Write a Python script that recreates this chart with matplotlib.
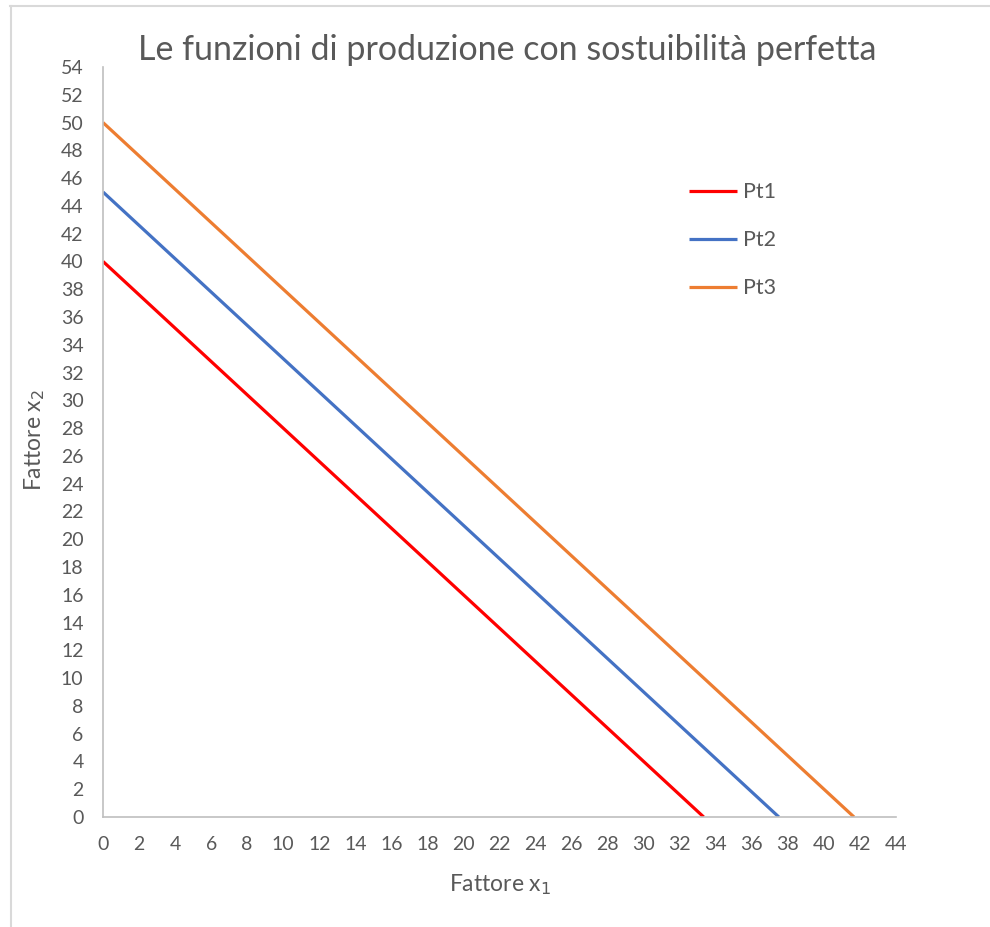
import matplotlib
matplotlib.use("Agg")
import matplotlib.pyplot as plt
from matplotlib.lines import Line2D

plt.rcParams['font.family'] = ['Lato', 'DejaVu Sans']

series_names = ["Pt1", "Pt2", "Pt3"]
x1_values = [[0, 33.33], [0, 37.5], [0, 41.67]]
x2_values = [[40, 0], [45, 0], [50, 0]]
colors = ["#FF0000", "#4472C4", "#ED7D31"]
x_ticks = list(range(0, 45, 2))
y_ticks = list(range(0, 55, 2))

txt = "#595959"
fig = plt.figure(figsize=(9.9, 9.27), dpi=100)
ax = fig.add_axes([103/990, 1-817/927, (896-103)/990, (817-67)/927])

for name, xs, ys, c in zip(series_names, x1_values, x2_values, colors):
    ax.plot(xs, ys, color=c, lw=2.3, label=name, solid_capstyle='butt')

ax.set_xlim(0, 44)
ax.set_ylim(0, 54)
ax.set_xticks(x_ticks)
ax.set_yticks(y_ticks)
ax.tick_params(length=0, labelsize=14, colors=txt)
ax.tick_params(axis='x', pad=14)
ax.tick_params(axis='y', pad=14)
for s in ['top', 'right']:
    ax.spines[s].set_visible(False)
for s in ['left', 'bottom']:
    ax.spines[s].set_color('#BFBFBF')
    ax.spines[s].set_linewidth(1.2)

fig.text(507/990, 1-50/927, "Le funzioni di produzione con sostuibilità perfetta",
         ha='center', va='center', fontsize=24.5, color=txt)
fig.text(500/990, 1-885/927, "Fattore x$_1$", ha='center', va='center',
         fontsize=16.5, color=txt)
fig.text(35/990, 1-440/927, "Fattore x$_2$", ha='center', va='center',
         fontsize=16.5, color=txt, rotation=90)

leg = ax.legend(loc='upper left', bbox_to_anchor=(670/990, 1-163/927),
                bbox_transform=fig.transFigure, frameon=False, fontsize=15.5,
                handlelength=2.2, labelspacing=1.3, handletextpad=0.3)
for t in leg.get_texts():
    t.set_color(txt)

fig.add_artist(Line2D([10/990, 1], [1-5.5/927, 1-5.5/927], color='#D9D9D9', lw=1.5,
                      transform=fig.transFigure))
fig.add_artist(Line2D([10.5/990, 10.5/990], [0, 1-5.5/927], color='#D9D9D9', lw=1.5,
                      transform=fig.transFigure))

fig.savefig("out.png", dpi=100, facecolor='white')
